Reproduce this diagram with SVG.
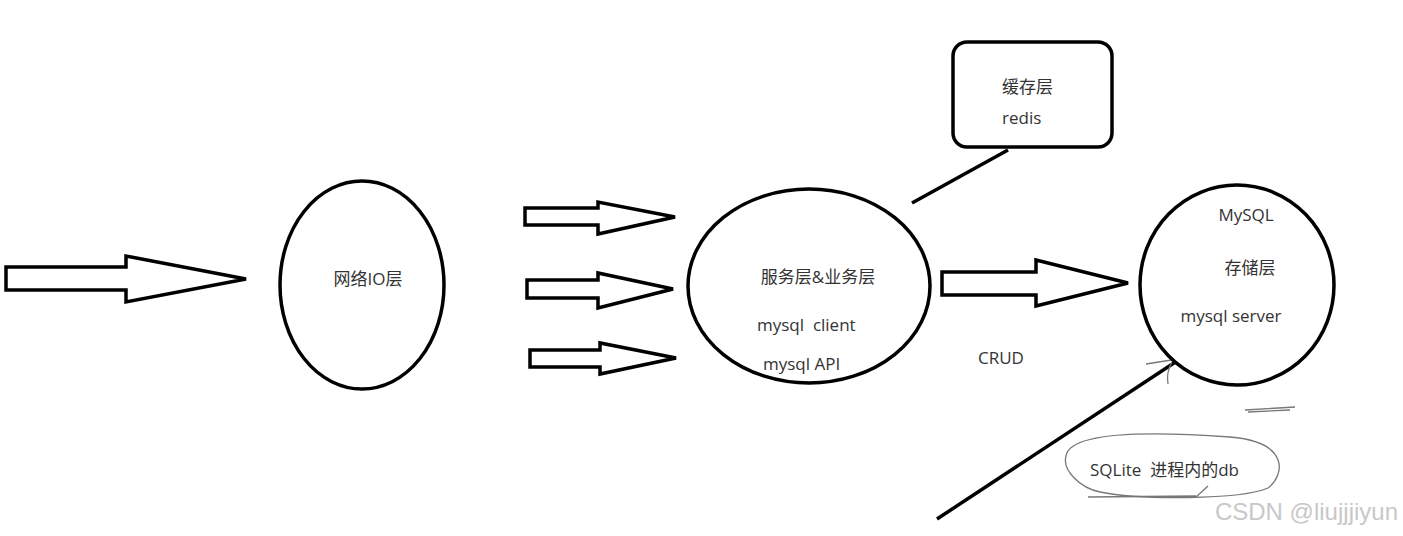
<svg xmlns="http://www.w3.org/2000/svg" width="1403" height="536" viewBox="0 0 1403 536">
<style>
.s{fill:#fff;stroke:#000;stroke-width:3.5;stroke-linejoin:miter}
.t{font-family:"Open Sans","Noto Sans CJK SC",sans-serif;font-size:17px;fill:#333;white-space:pre}
.g{fill:none;stroke:#777;stroke-width:1.3}
</style>
<rect width="1403" height="536" fill="#fff"/>
<g id="connectors">
<polygon class="s" points="6,267 126,267 126,256 246,279 126,302 126,290 6,290"/>
<polygon class="s" points="525,208 598,208 598,202 675,217 598,234 598,225 525,225"/>
<polygon class="s" points="527,280 598,280 598,273 673,289 598,308 598,298 527,298"/>
<polygon class="s" points="530,350 600,350 600,343 676,358 600,374 600,367 530,367"/>
<polygon class="s" points="942,272 1036,272 1036,260 1128,283 1036,306 1036,295 942,295"/>
<line x1="1008" y1="150" x2="912" y2="203" stroke="#000" stroke-width="3.5"/>
<line x1="937" y1="519" x2="1180" y2="359" stroke="#000" stroke-width="3.5"/>
<path class="g" d="M1146,364 L1178,359 M1172,362 Q1166,372 1168,384"/>
<path class="g" d="M1245,410 L1295,407 M1248,412 L1290,410"/>
</g>
<g id="io">
<ellipse class="s" cx="362" cy="285" rx="82" ry="104"/>
<text class="t" x="368" y="285" text-anchor="middle">网络IO层</text>
</g>
<g id="service">
<ellipse class="s" cx="809" cy="286" rx="121" ry="97"/>
<text class="t" x="818" y="283" text-anchor="middle">服务层&amp;业务层</text>
<text class="t" x="757" y="331" xml:space="preserve">mysql  client</text>
<text class="t" x="763" y="370">mysql API</text>
</g>
<g id="cache">
<rect class="s" x="953" y="42" width="159" height="105" rx="14"/>
<text class="t" x="1002" y="93">缓存层</text>
<text class="t" x="1002" y="124">redis</text>
</g>
<g id="storage">
<ellipse class="s" cx="1237" cy="285" rx="97" ry="100"/>
<text class="t" x="1246" y="221" text-anchor="middle">MySQL</text>
<text class="t" x="1250" y="274" text-anchor="middle">存储层</text>
<text class="t" x="1231" y="322" text-anchor="middle">mysql server</text>
</g>
<g id="crud">
<text class="t" x="978" y="364">CRUD</text>
</g>
<g id="sqlite">
<path class="g" d="M1066,456 C1070,430 1160,432 1230,437 C1290,442 1285,475 1268,488 C1240,500 1140,500 1100,492 C1080,488 1062,470 1066,456 Z"/>
<path class="g" d="M1088,497 L1196,496 M1196,497 L1208,486"/>
<text class="t" x="1090" y="476" xml:space="preserve">SQLite  进程内的db</text>
</g>
<text x="1398" y="520" text-anchor="end" font-family="Liberation Sans,sans-serif" font-size="24" fill="#c8c8c8">CSDN @liujjjiyun</text>
</svg>
